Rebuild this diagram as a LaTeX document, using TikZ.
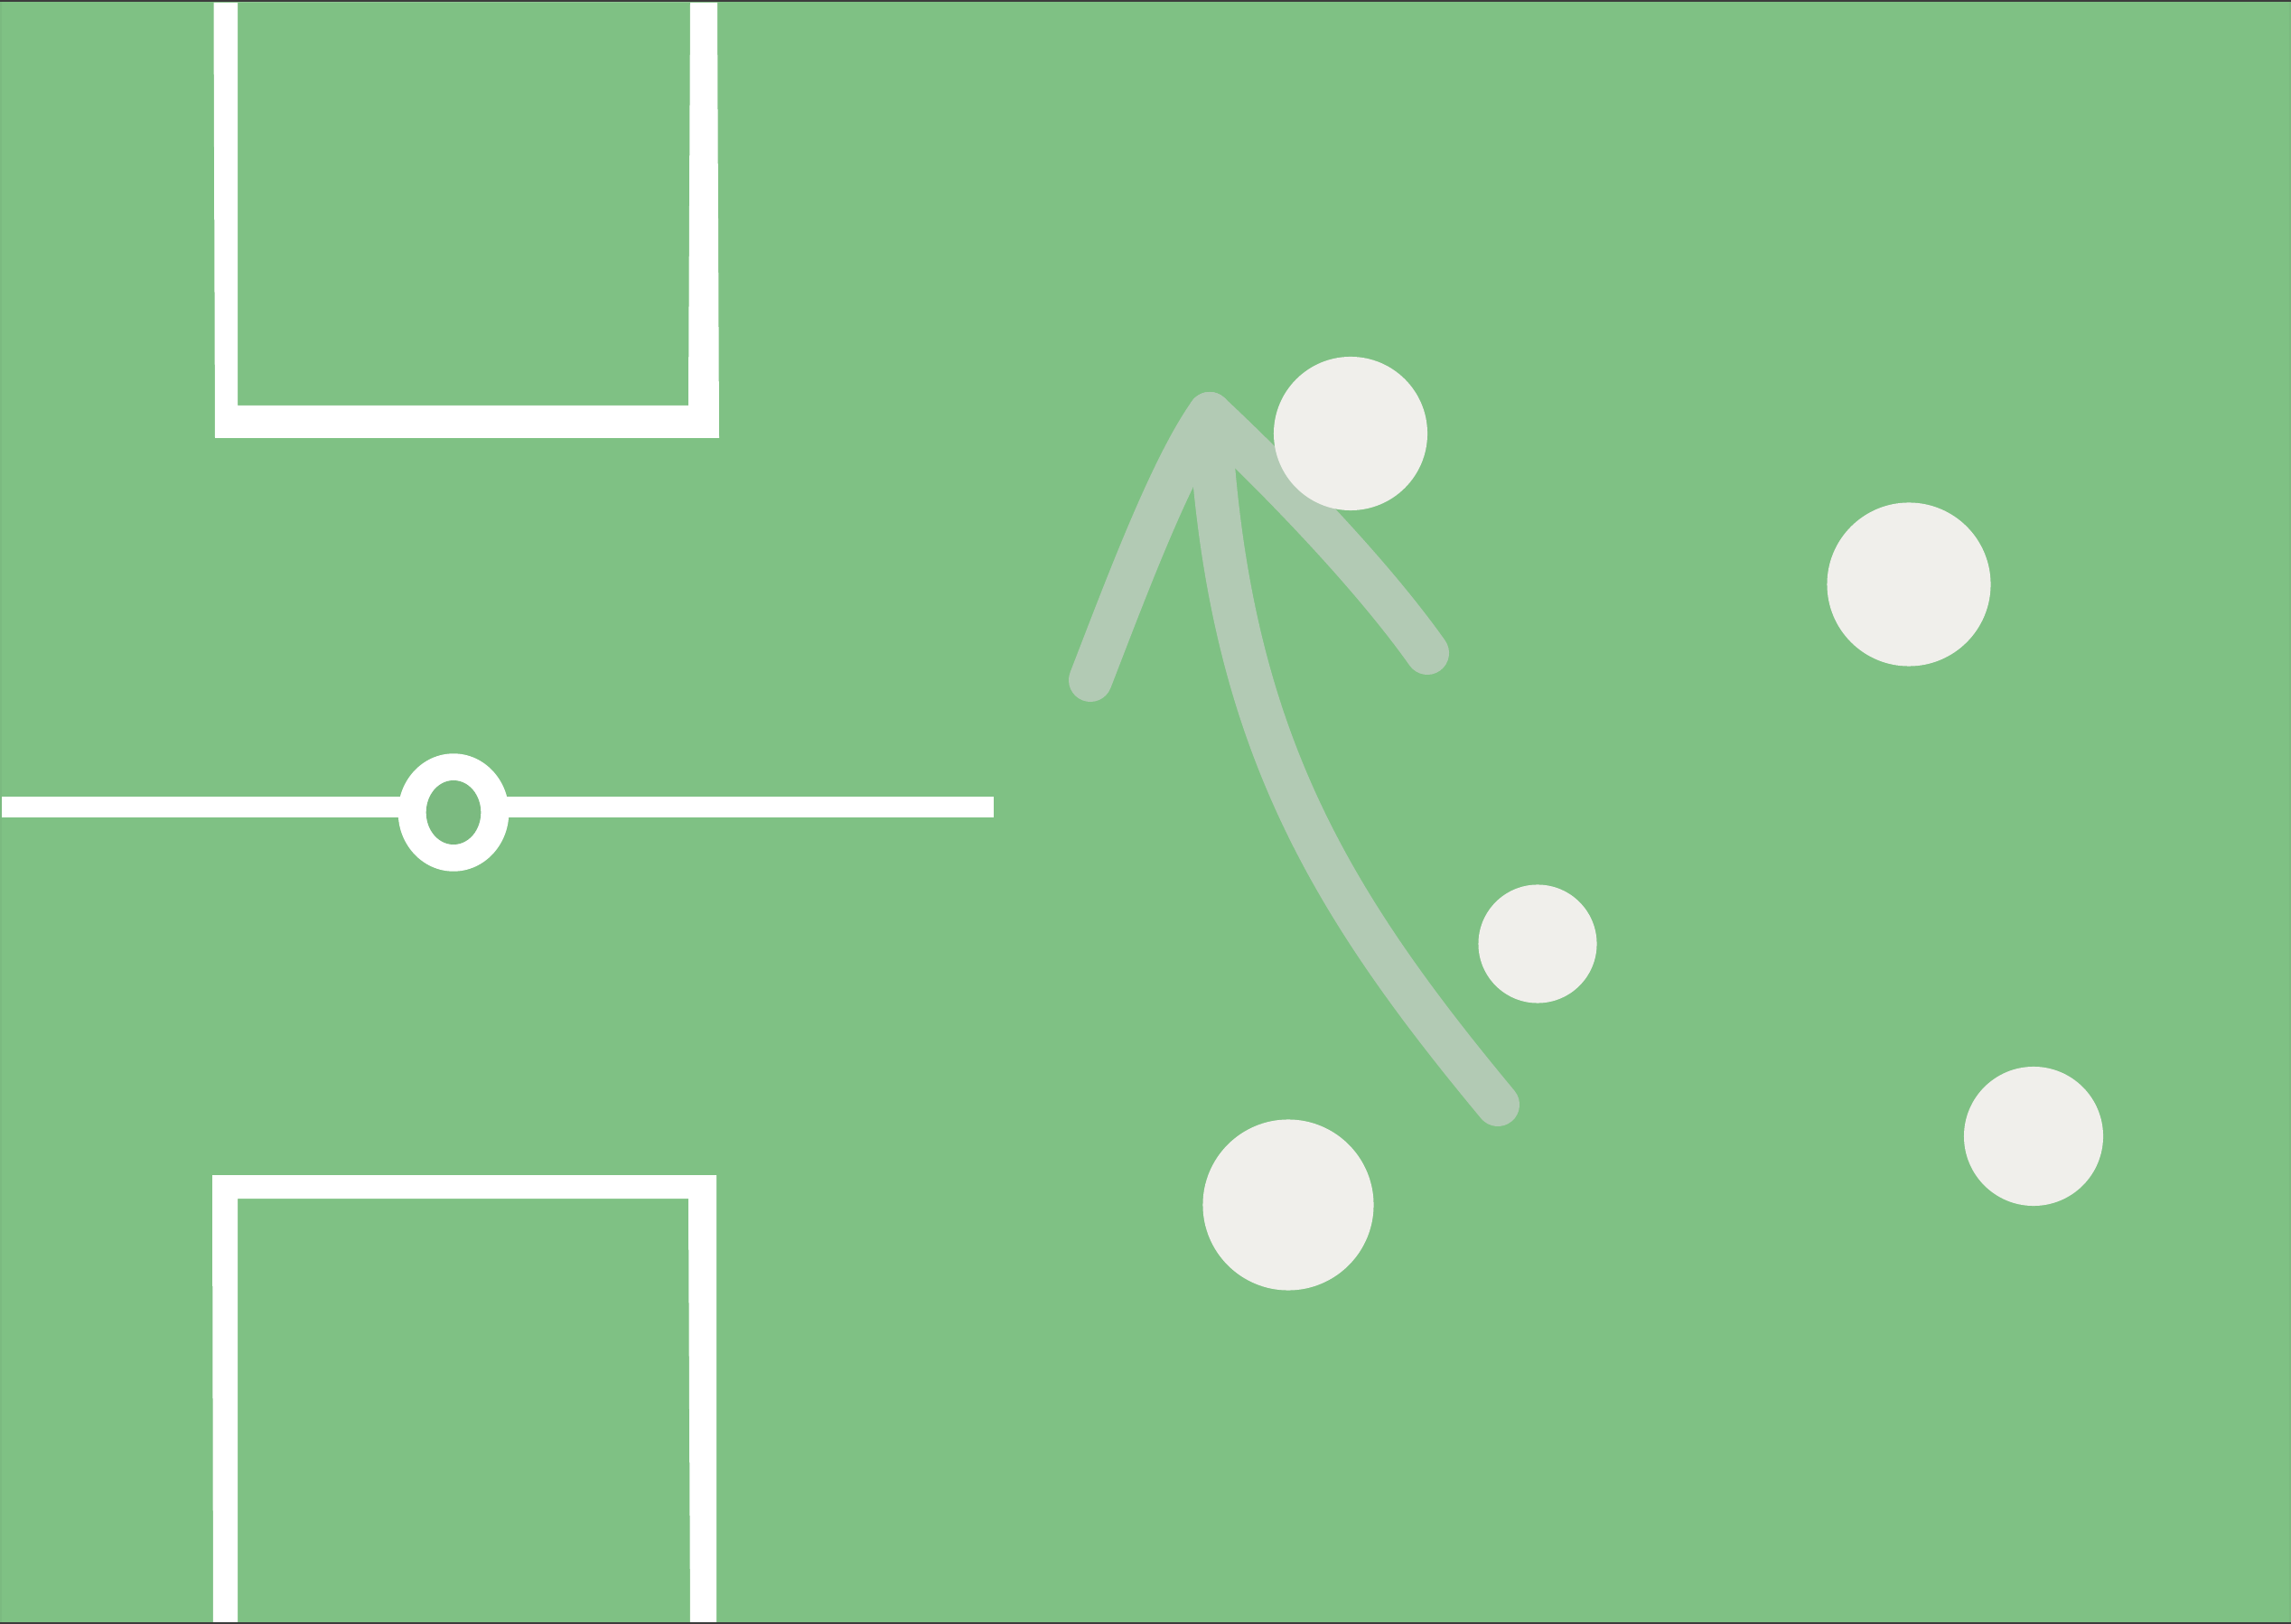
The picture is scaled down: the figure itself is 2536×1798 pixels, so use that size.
\documentclass[tikz,border=0pt]{standalone}
\definecolor{pitch}{HTML}{7FC184}
\definecolor{pitchdark}{HTML}{7BBA80}
\definecolor{ballwhite}{HTML}{F0EFEB}
\definecolor{runpath}{HTML}{B2CAB4}
\definecolor{frameline}{HTML}{3C3C3C}
\tikzset{
  ball/.style={
    shape = circle,
    fill = ballwhite,
    inner sep = 0pt
  },
  run/.style={
    draw = runpath,
    line width = 0.48cm,
    line cap = round,
    line join = round
  },
  chalk/.style={
    fill = white,
    even odd rule
  }
}

\begin{document}
\begin{tikzpicture}[x=0.01cm, y=-0.01cm]
    \useasboundingbox (0,0) rectangle (2536,1798);
    \fill[pitch] (0,0) rectangle (2536,1798);
    % goal areas
    \fill[chalk] (236.5,3) -- (794,3) -- (796,485) -- (238,485) -- cycle
        (263,3) -- (764,3) -- (762,449) -- (263,449) -- cycle;
    \fill[chalk] (235,1301) -- (793,1301) -- (793,1798) -- (236,1798) -- cycle
        (263,1327) -- (762,1327) -- (764,1798) -- (263,1798) -- cycle;
    % halfway line and centre circle
    \fill[chalk] (1,882) rectangle (1100,905);
    \fill[chalk] (502,899.5) ellipse [x radius=61.3, y radius=65.2];
    \fill[pitchdark] (502,899.5) ellipse [x radius=30.3, y radius=35.5];
    % run
    \coordinate (tip) at (1339,458);
    \coordinate (start) at (1658,1223);
    \coordinate (headL) at (1207,753);
    \coordinate (headR) at (1580,723);
    \draw[run] (start) .. controls (1466,992) and (1357,808) .. (tip);
    \draw[run] (headL) .. controls (1245,655) and (1295,520) .. (tip);
    \draw[run] (tip) .. controls (1418,532) and (1520,638) .. (headR);
    % players
    \node[ball, minimum size=1.70cm] (b1) at (1495,480) {};
    \node[ball, minimum size=1.81cm] (b2) at (2113,647) {};
    \node[ball, minimum size=1.31cm] (b3) at (1702,1045) {};
    \node[ball, minimum size=1.89cm] (b4) at (1426,1334) {};
    \node[ball, minimum size=1.54cm] (b5) at (2251,1258) {};
    % frame
    \fill[frameline] (0,0) rectangle (2536,2.5);
    \fill[frameline] (0,1795.5) rectangle (2536,1798);
    \fill[pitchdark] (0,2.5) rectangle (2,1795.5);
    \fill[pitchdark] (2534,2.5) rectangle (2536,1795.5);
\end{tikzpicture}
\end{document}
